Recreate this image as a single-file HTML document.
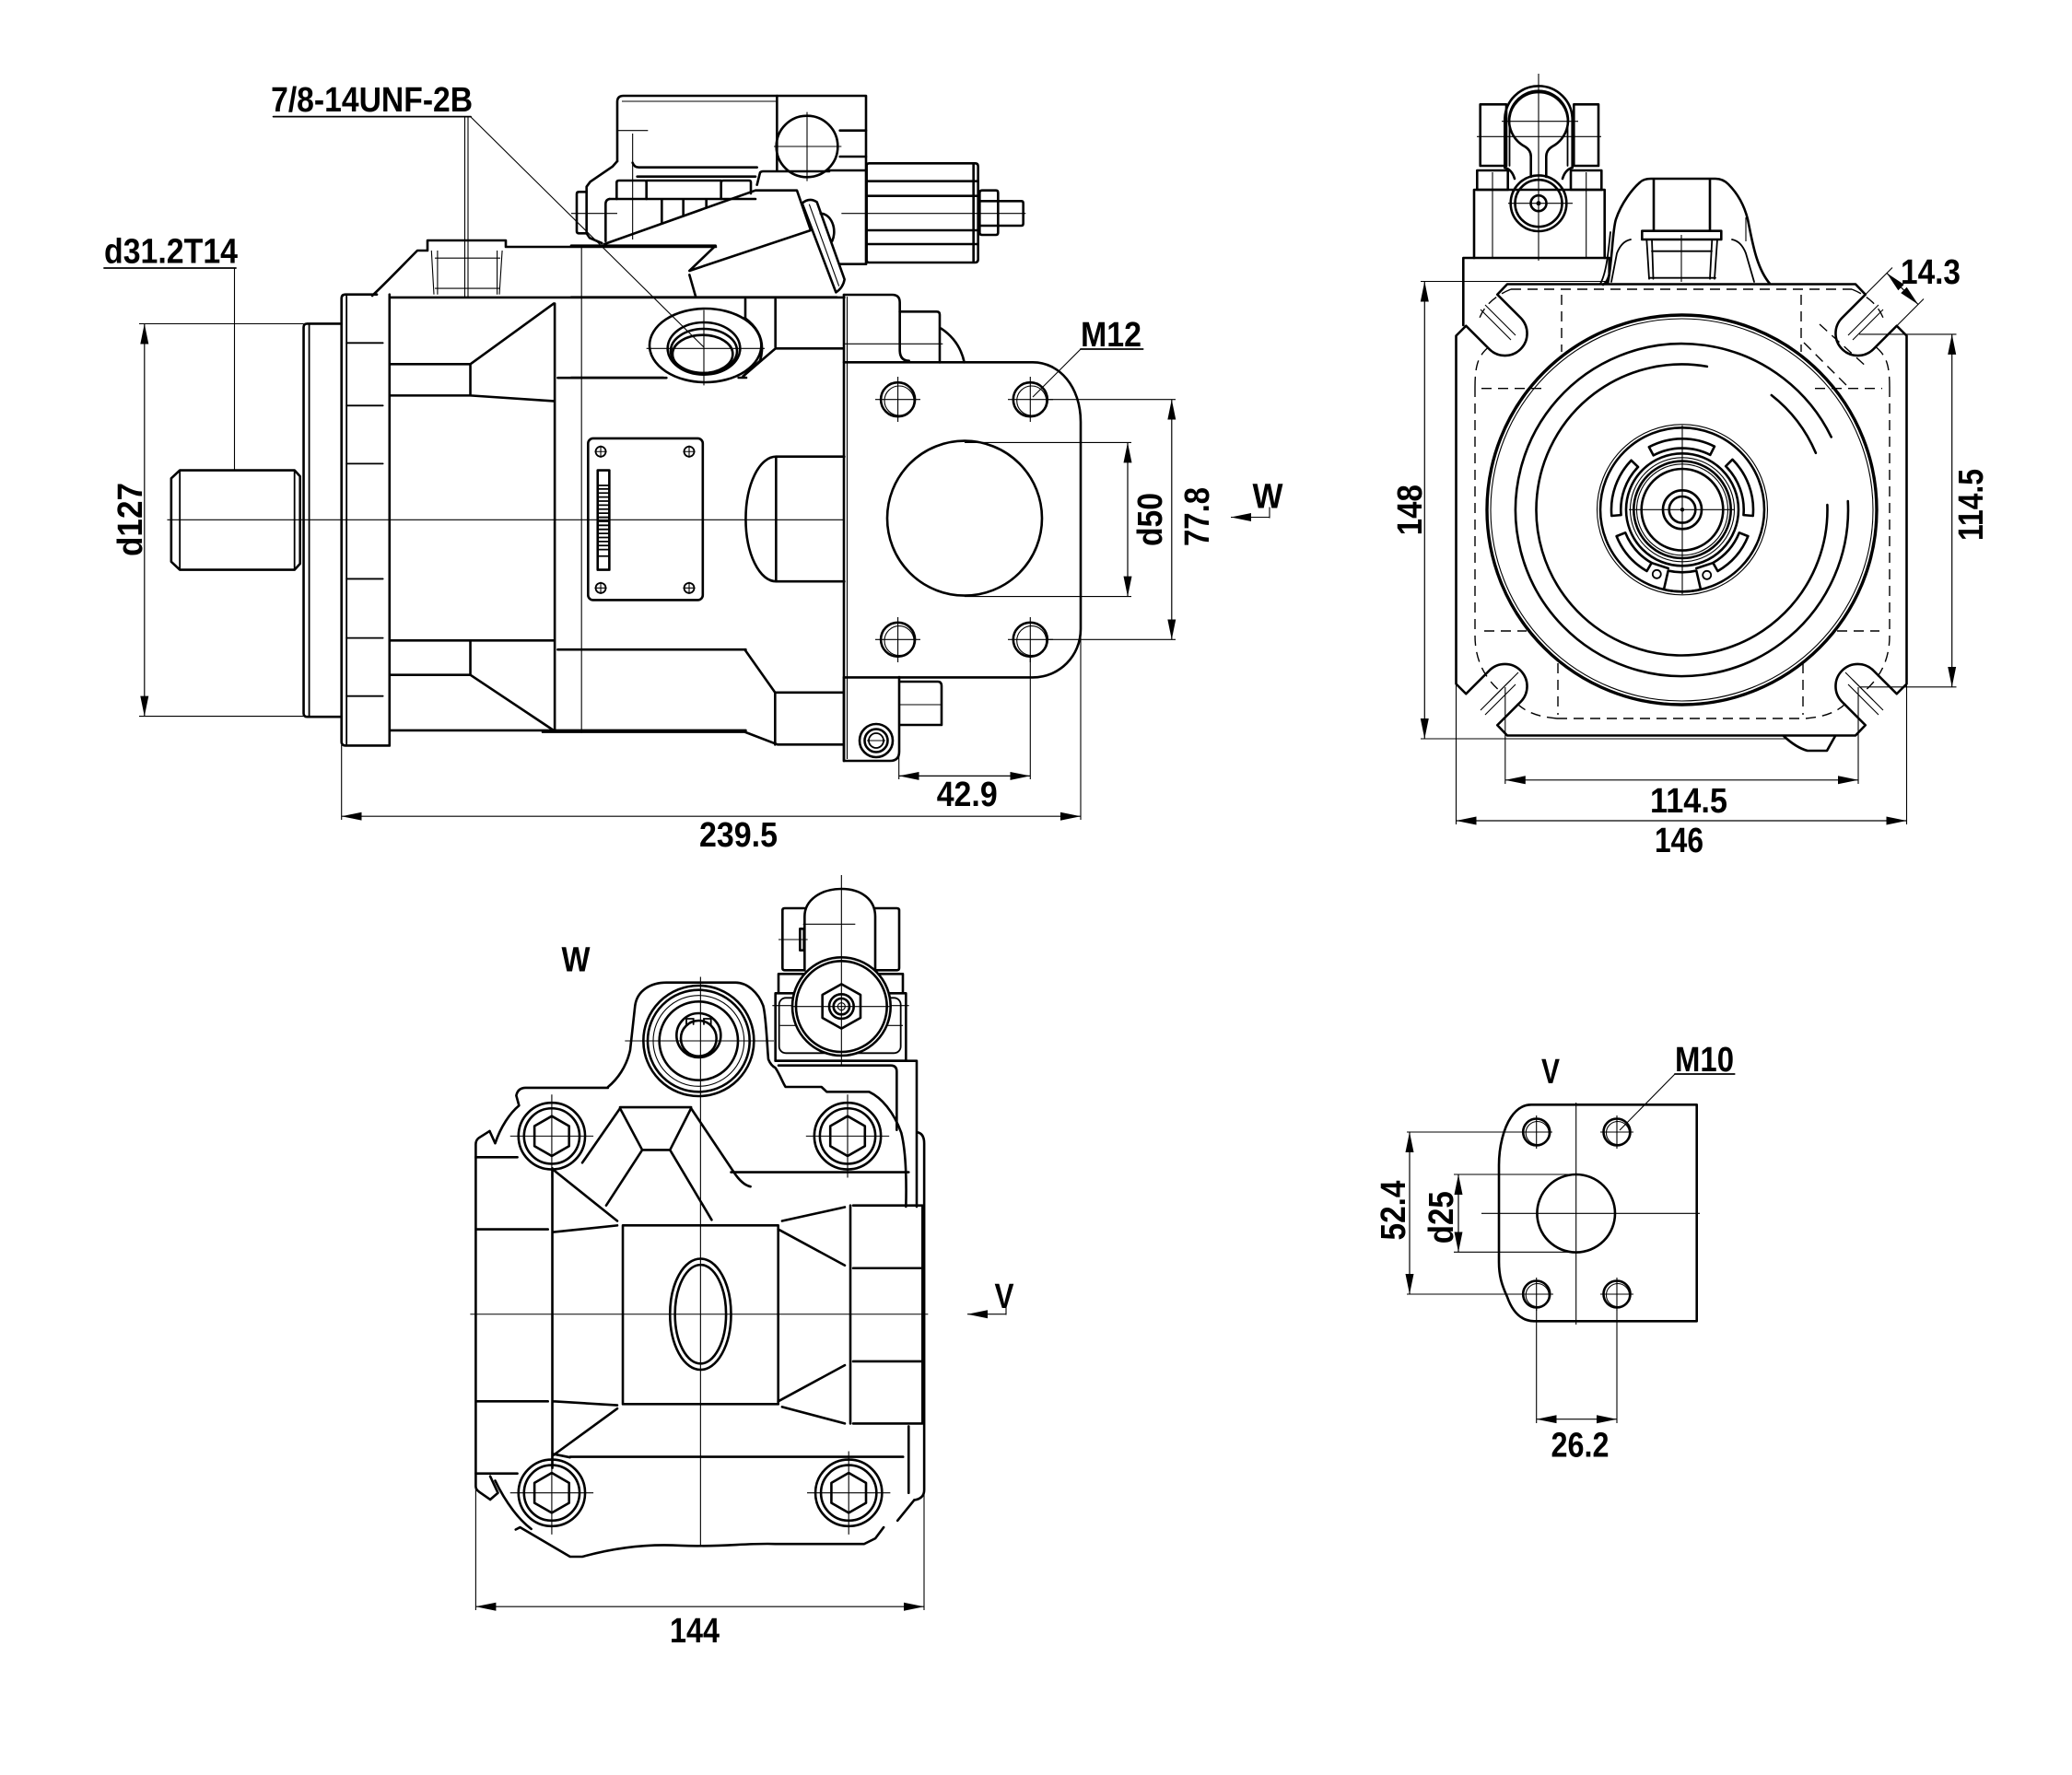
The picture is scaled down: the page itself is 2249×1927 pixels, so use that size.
<!DOCTYPE html>
<html><head><meta charset="utf-8">
<style>
html,body{margin:0;padding:0;background:#fff;}
svg{display:block}
.k{fill:none;stroke:#000;stroke-width:2.6;stroke-linejoin:round;stroke-linecap:round}
.m{fill:none;stroke:#000;stroke-width:1.8;stroke-linecap:round}
.t{fill:none;stroke:#000;stroke-width:1.1}
.d{fill:none;stroke:#000;stroke-width:1.4;stroke-dasharray:11 7}
.k,.m,.t,.d{vector-effect:non-scaling-stroke}
.dim{fill:none;stroke:#000;stroke-width:1.2;marker-start:url(#a);marker-end:url(#a)}
text{font-family:"Liberation Sans",Arial,sans-serif;font-weight:bold;fill:#000;font-size:38px}
</style></head><body>
<svg width="2249" height="1927" viewBox="0 0 2249 1927" xmlns="http://www.w3.org/2000/svg">
<defs>
<marker id="a" viewBox="-22 -5 22 10" refX="0" refY="0" markerWidth="22" markerHeight="10" markerUnits="userSpaceOnUse" orient="auto-start-reverse"><path d="M-22,-4.5 L0,0 L-22,4.5 z" fill="#000"/></marker>
</defs>
<rect width="2249" height="1927" fill="#fff"/>

<!-- ================= LEFT VIEW ================= -->
<g transform="translate(80,80) scale(0.54845)">
  <path class="k" d="M210,785 L437,785 L448,797 L448,970 L437,982 L210,982 L193,966 L193,801 Z"/>
  <path class="m" d="M210,785 V982 M437,785 V982"/>
  <path class="k" d="M530,495 H462 Q455,495 455,502 V1266 Q455,1273 462,1273 H530"/>
  <path class="m" d="M466,497 V1271"/>
  <path class="k" d="M600,437 H538 Q530,437 530,445 V1322 Q530,1330 538,1330 H625 V437"/>
  <path class="m" d="M540,440 V1327"/>
  <path class="m" d="M540,533 H612 M540,657 H612 M540,772 H612 M540,1000 H612 M540,1117 H612 M540,1232 H612"/>
  <path class="k" d="M625,443 H1525"/>
  <path class="k" d="M625,1300 H1330"/>
  <path class="k" d="M625,575 H785 L950,455 M625,637 H785 L950,648 M785,575 V637"/>
  <path class="k" d="M625,1122 H950 M625,1190 H785 L950,1300 M785,1122 V1190"/>
  <path class="k" d="M952,455 V1300"/>
  <path class="k" d="M958,602 H1173 M958,1140 H1330"/>
  <path class="t" d="M1005,340 V1305"/>
  <path class="t" d="M185,883 H1525"/>
  <rect class="k" x="1018" y="722" width="227" height="320" rx="10"/>
  <circle class="m" cx="1043" cy="748" r="10"/><circle class="m" cx="1218" cy="748" r="10"/>
  <circle class="m" cx="1043" cy="1018" r="10"/><circle class="m" cx="1218" cy="1018" r="10"/>
  <path class="t" d="M1031,748 H1055 M1043,736 V760 M1206,748 H1230 M1218,736 V760 M1031,1018 H1055 M1043,1006 V1030 M1206,1018 H1230 M1218,1006 V1030"/>
  <rect class="k" x="1037" y="785" width="23" height="197"/>
  <path class="m" d="M1037,815 H1060 M1037,955 H1060"/>
  <path class="m" d="M1040,822 H1058 M1040,830 H1058 M1040,838 H1058 M1040,846 H1058 M1040,854 H1058 M1040,862 H1058 M1040,870 H1058 M1040,878 H1058 M1040,886 H1058 M1040,894 H1058 M1040,902 H1058 M1040,910 H1058 M1040,918 H1058 M1040,926 H1058 M1040,934 H1058 M1040,942 H1058"/>
  <path class="k" d="M1525,758 H1390 V1005 H1525 M1390,758 A60,123.5 0 0 0 1390,1005"/>
</g>

<g transform="translate(600,80) scale(0.54845)">
  <path class="k" d="M-20,1303 H380 L445,1328 H575"/>
  <path class="k" d="M380,1140 L440,1225 H575 M440,1225 V1328"/>
</g>

<path class="k" d="M404,321 C418,308 440,285 453,272 H464 V261 H549 V268 H777"/>
<path class="t" d="M468.3,272 L471,319.7 M474.9,272 V319.7 M539.6,272 V319.7 M545.1,272 L542,319.7 M472,280.2 H543 M472,313.1 H543"/>

<g transform="translate(620,90) scale(0.33333)">
  <path class="k" d="M150,255 V62 Q150,42 170,42 H960 V590"/>
  <path class="k" d="M150,255 L135,272 L62,322 L50,338 V490 L60,505 L100,522"/>
  <path class="k" d="M50,355 H25 Q18,355 18,362 V483 Q18,490 25,490 H50"/>
  <path class="k" d="M200,260 Q205,275 220,275 H605"/>
  <path class="k" d="M215,305 H600"/>
  <path class="k" d="M670,42 V285"/>
  <path class="t" d="M165,60 H670"/>
  <circle class="k" cx="768" cy="207" r="100"/>
  <path class="t" d="M660,207 H880 M768,95 V320"/>
  <path class="k" d="M875,155 H960 M875,240 H960"/>
  <path class="t" d="M150,155 H250 M200,165 V510 M0,425 H150"/>
  <path class="k" d="M148,378 V325 Q148,318 155,318 H240 Q245,318 245,325 V378 M488,378 V325 Q488,318 495,318 H580 Q585,318 585,325 V360"/>
  <path class="k" d="M245,318 H488"/>
  <path class="k" d="M125,378 H600"/>
  <path class="k" d="M125,378 Q112,380 112,395 V515"/>
  <path class="k" d="M295,380 V458 M365,380 V433 M440,380 V406"/>
  <path class="k" d="M108,525 L600,350 H735 L780,480 L385,612 L470,530 H0"/>
  <path class="k" d="M605,332 L615,292 Q618,288 625,288 H840 V285 H960"/>
  <path class="k" d="M385,625 L405,695"/>
  <path class="k" d="M752,392 Q775,372 800,388 L890,640 Q885,668 862,682 Z"/>
  <path class="t" d="M775,395 L872,662"/>
  <path class="k" d="M812,425 A45,60 0 0 1 850,515"/>
  <path class="k" d="M875,590 H960"/>
  <path class="t" d="M880,425 H1480"/>
  <path class="k" d="M962,270 Q962,262 970,262 H1315 Q1325,262 1325,272 V575 Q1325,585 1315,585 H970 Q962,585 962,577 Z"/>
  <path class="k" d="M965,320 H1320 M965,368 H1320 M965,480 H1320 M965,525 H1320 M1310,265 V582"/>
  <path class="k" d="M1330,358 Q1330,350 1338,350 H1383 Q1390,350 1390,358 V487 Q1390,495 1383,495 H1338 Q1330,495 1330,487 Z M1333,385 H1390 M1333,465 H1390"/>
  <path class="k" d="M1390,385 H1466 Q1472,385 1472,392 V458 Q1472,465 1466,465 H1390"/>
  <path class="k" d="M0,698 H865"/>
  <ellipse class="k" cx="437" cy="855" rx="182" ry="120"/>
  <ellipse class="k" cx="432" cy="865" rx="118" ry="85"/>
  <ellipse class="k" cx="432" cy="873" rx="108" ry="72"/>
  <ellipse class="k" cx="428" cy="883" rx="98" ry="62"/>
  <path class="k" d="M565,765 Q640,820 615,905 L560,955"/>
  <path class="k" d="M0,960 H300 M545,960 H570 M560,955 L665,865 H885 M567,705 V770 M665,705 V860"/>
  <path class="t" d="M245,865 H630 M432,740 V985"/>
  <path class="k" d="M888,690 H1045 Q1070,690 1070,715 V870 Q1070,905 1100,905"/>
  <path class="k" d="M1070,745 H1190 Q1200,745 1200,755 V910"/>
  <path class="k" d="M1205,800 Q1265,840 1280,910"/>
  <path class="t" d="M888,850 H1210"/>
</g>

<path class="k" d="M916,320 V826"/>
<path class="t" d="M919.5,322 V824"/>
<path class="k" d="M916,393.3 H1121 C1150,393.3 1173,420 1173,458 V683 C1173,712 1150,735.4 1121,735.4 H916"/>
<circle class="k" cx="974.6" cy="433.7" r="18.5"/><circle class="t" cx="976" cy="435" r="16"/>
<circle class="k" cx="1118.3" cy="433.7" r="18.5"/><circle class="t" cx="1119.7" cy="435" r="16"/>
<circle class="k" cx="974.6" cy="694.3" r="18.5"/><circle class="t" cx="976" cy="695.6" r="16"/>
<circle class="k" cx="1118.3" cy="694.3" r="18.5"/><circle class="t" cx="1119.7" cy="695.6" r="16"/>
<path class="t" d="M950,433.7 H999 M974.6,409 V458 M1094,433.7 H1143 M1118.3,409 V458 M950,694.3 H999 M974.6,670 V719 M1094,694.3 H1143 M1118.3,670 V719"/>
<circle class="k" cx="1047" cy="562.6" r="84"/>
<path class="k" d="M916,735 V826 H966 Q976,826 976,816 V735 M976,740 H1018 Q1022,740 1022,745 V787 H976"/>
<path class="t" d="M976,765 H1022"/>
<circle class="k" cx="951" cy="804" r="18"/><circle class="k" cx="951" cy="804" r="12.5"/><circle class="m" cx="951" cy="804" r="8"/>
<path class="t" d="M941,804 H961"/>

<path class="dim" d="M156.8,351.5 V777.6"/>
<path class="t" d="M151,351.5 H329.5 M151,777.6 H329.5"/>
<path class="m" d="M113,291 H256"/>
<path class="t" d="M254.5,291 V510"/>
<path class="m" d="M296.6,126.6 H511"/>
<path class="t" d="M504.5,127 V322 M508,127 V322 M511,127 L764,377"/>
<path class="dim" d="M370.7,886.2 H1173"/>
<path class="t" d="M370.7,809 V890 M1173,683 V890"/>
<path class="dim" d="M975.7,842.4 H1118.3"/>
<path class="t" d="M975.7,793 V846 M1118.3,713 V846"/>
<path class="dim" d="M1224,480.4 V647.6"/>
<path class="t" d="M1047,480.4 H1228 M1047,647.6 H1228"/>
<path class="dim" d="M1271.8,433.7 V694.3"/>
<path class="t" d="M1137,433.7 H1276 M1137,694.3 H1276"/>
<path class="m" d="M1173,379 H1240.6"/>
<path class="t" d="M1173,379 L1121,431"/>
<path class="t" d="M1336,561.5 H1378 M1378,550.5 V562.5" marker-start="url(#a)"/>

<text x="403.6" y="121" text-anchor="middle" textLength="219" lengthAdjust="spacingAndGlyphs">7/8-14UNF-2B</text>
<text x="185.5" y="285.7" text-anchor="middle" textLength="145" lengthAdjust="spacingAndGlyphs">d31.2T14</text>
<text transform="translate(154,564) rotate(-90)" text-anchor="middle" textLength="80" lengthAdjust="spacingAndGlyphs">d127</text>
<text x="801.5" y="919" text-anchor="middle" textLength="85" lengthAdjust="spacingAndGlyphs">239.5</text>
<text x="1049.7" y="875" text-anchor="middle" textLength="66" lengthAdjust="spacingAndGlyphs">42.9</text>
<text x="1206" y="376" text-anchor="middle" textLength="66" lengthAdjust="spacingAndGlyphs">M12</text>
<text transform="translate(1261,564) rotate(-90)" text-anchor="middle" textLength="58" lengthAdjust="spacingAndGlyphs">d50</text>
<text transform="translate(1312,561) rotate(-90)" text-anchor="middle" textLength="64" lengthAdjust="spacingAndGlyphs">77.8</text>
<text x="1376" y="551.7" text-anchor="middle" textLength="33" lengthAdjust="spacingAndGlyphs">W</text>

<!-- ================= RIGHT VIEW ================= -->
<path class="k" d="M1588.3,353 V280 H1746.7 V298 Q1745,306 1740,309"/>
<path class="k" d="M1600,280 V206 H1741.7 V280"/>
<path class="t" d="M1620,187 V280 M1721.7,187 V280 M1670,80 V283"/>
<rect class="k" x="1603.3" y="185" width="33.4" height="21"/>
<rect class="k" x="1705" y="185" width="33.3" height="21"/>
<rect class="k" x="1606.7" y="113.3" width="28.3" height="66.7"/>
<rect class="k" x="1708.3" y="113.3" width="26.7" height="66.7"/>
<path class="k" d="M1633.3,182 V130 A36.7,36.7 0 0 1 1706.7,130 V182"/>
<path class="k" d="M1633.3,182 Q1641,184 1644,194 M1706.7,182 Q1699,184 1696,194"/>
<path class="m" d="M1638.5,180 V132 A31.5,31.5 0 0 1 1701.5,132 V180"/>
<path class="k" d="M1661.7,192 V170 Q1661.7,163 1655,159 A32,32 0 1 1 1685,159 Q1678.3,163 1678.3,170 V192"/>
<circle class="k" cx="1670" cy="220.7" r="30.3"/>
<circle class="k" cx="1670" cy="220.7" r="25.5"/>
<circle class="k" cx="1670" cy="220.7" r="8.5"/>
<circle cx="1670" cy="220.7" r="2.5" fill="#000"/>
<path class="t" d="M1630,131.7 H1713 M1603,148.3 H1738 M1637,220.7 H1707"/>
<path class="k" d="M1745,308 C1750,285 1750,250 1754,238 C1760,220 1772,205 1780,198 Q1784,194 1792,194 H1862 Q1870,194 1876,200 C1886,210 1893,222 1897,238 C1902,262 1906,290 1921,308"/>
<path class="m" d="M1737,308 C1744,296 1746,270 1748,252"/>
<path class="k" d="M1795,195 V250.7 M1856,195 V250.7"/>
<rect class="k" x="1782.3" y="250.7" width="86" height="9.3"/>
<path class="m" d="M1770,260 Q1760,262 1755,275 L1749,306 M1880,260 Q1890,262 1895,275 L1904,306"/>
<path class="m" d="M1787.3,260 L1790,302.7 M1793,260 L1794.5,302.7 M1858.3,260 L1856,302.7 M1864,260 L1861,302.7 M1793,272.7 H1858 M1790,301.7 H1862"/>
<path class="t" d="M1895,236 V262 M1825,255 V306"/>
<path class="k" d="M1636,308.5 H2014 L2024.75,319.75 L1999.5,345 A24,24 0 0 0 2033.5,379 L2058.75,353.75 L2069.5,364.5 V742.5 L2058.75,753.25 L2033.5,728 A24,24 0 0 0 1999.5,762 L2024.75,787.25 L2014,798.5 H1636 L1625.25,787.25 L1650.5,762 A24,24 0 0 0 1616.5,728 L1591.25,753.25 L1580.5,742.5 V364.5 L1591.25,353.75 L1616.5,379 A24,24 0 0 0 1650.5,345 L1625.25,319.75 Z"/>
<path class="k" d="M1936,799 Q1950,812 1962,815 H1983 L1992,799"/>
<path class="t" d="M1612,331 L1645,364 M1607,336 L1640,369 M2039,331 L2006,364 M2044,336 L2011,369 M1612,776 L1645,743 M1607,771 L1640,738 M2039,776 L2006,743 M2044,771 L2011,738"/>
<path class="t" d="M1618,760 L1648,730 M2033,760 L2003,730"/>
<path class="d" d="M1640,314 H2010 M1601,420 V690 M2051,420 V690 M1690,780 H1960"/>
<path class="d" d="M1601,420 C1601,395 1605,385 1618,375 M1640,314 C1625,320 1612,330 1606,345"/>
<path class="d" d="M2051,420 C2051,395 2047,385 2034,375 M2010,314 C2025,320 2038,330 2044,345"/>
<path class="d" d="M1601,690 C1601,715 1610,735 1630,752 M1690,780 C1665,778 1652,770 1645,762"/>
<path class="d" d="M2051,690 C2051,715 2042,735 2022,752 M1960,780 C1985,778 1998,770 2005,762"/>
<path class="d" d="M1695,320 V382 M1955,320 V382 M1691,720 V776 M1957,720 V776 M1608,421.7 H1680 M1970,421.7 H2043 M1611,685 H1657 M1994,685 H2040"/>
<path class="d" d="M1958,372 L2006,420 M1975,352 L2028,400"/>
<circle class="k" cx="1825.5" cy="553.5" r="211.5" style="stroke-width:3.4"/>
<circle class="t" cx="1825.5" cy="553.5" r="207.5"/>
<path class="k" d="M2005.75,544.06 A180.5,180.5 0 1 1 1987.7,474.4"/>
<path class="k" d="M1983.4,548 A158,158 0 1 1 1852.9,397.9"/>
<path class="k" d="M1922.8,429 A158,158 0 0 1 1970.9,491.8"/>
<circle class="k" cx="1826" cy="553.3" r="89"/>
<circle class="t" cx="1826" cy="553.3" r="92.5"/>
<path class="k" d="M1789.85,485.32 A77,77 0 0 1 1860.96,484.69 L1856.28,493.87 A66.7,66.7 0 0 0 1794.68,494.41 Z"/>
<path class="k" d="M1880.45,498.85 A77,77 0 0 1 1902.71,560.01 L1892.45,559.12 A66.7,66.7 0 0 0 1873.16,506.14 Z"/>
<path class="k" d="M1749.29,560.01 A77,77 0 0 1 1770.61,499.81 L1778.02,506.96 A66.7,66.7 0 0 0 1759.55,559.12 Z"/>
<path class="k" d="M1897.39,582.14 A77,77 0 0 1 1864.5,619.98 L1859.35,611.06 A66.7,66.7 0 0 0 1887.84,578.29 Z"/>
<path class="k" d="M1787.5,619.98 A77,77 0 0 1 1754.61,582.14 L1764.16,578.29 A66.7,66.7 0 0 0 1792.65,611.06 Z"/>
<path class="k" d="M1846.03,640.02 A89,89 0 0 1 1805.97,640.02 L1810.7,619.56 A68,68 0 0 0 1841.3,619.56 Z"/>
<path class="k" d="M1792.65,611.06 L1810.7,617 M1859.35,611.06 L1841.3,617"/>
<circle class="m" cx="1798.3" cy="623.3" r="4.5"/><circle class="m" cx="1852.7" cy="624.3" r="4.5"/>
<circle class="k" cx="1826" cy="553.3" r="61"/>
<circle class="t" cx="1826" cy="553.3" r="56.5"/>
<circle class="k" cx="1826" cy="553.3" r="52.7"/>
<circle class="t" cx="1826" cy="553.3" r="49.5"/>
<circle class="k" cx="1826" cy="553.3" r="44.3"/>
<circle class="k" cx="1826" cy="553.3" r="21"/>
<circle class="k" cx="1826" cy="553.3" r="14.3"/>
<circle cx="1826" cy="553.3" r="2.2" fill="#000"/>
<path class="t" d="M1768,553.3 H1883 M1826,461.7 V645"/>
<path class="dim" d="M1546.3,305.5 V802"/>
<path class="t" d="M1542,305.5 H1745 M1542,802 H1938"/>
<path class="dim" d="M2118.7,362.9 V745.8"/>
<path class="t" d="M2018,362.9 H2123.5 M2018,745.8 H2123.5"/>
<path class="dim" d="M1633.8,846.8 H2017"/>
<path class="t" d="M1633.8,746 V851 M2017,746 V851"/>
<path class="dim" d="M1580.5,891 H2069.5"/>
<path class="t" d="M1580.5,742 V895 M2069.5,742 V895"/>
<path class="dim" d="M2048,296.5 L2082,330.5"/>
<path class="t" d="M2024.75,319.75 L2054,290.5 M2058.75,353.75 L2088,324.5"/>
<text transform="translate(1543,553.7) rotate(-90)" text-anchor="middle" textLength="55" lengthAdjust="spacingAndGlyphs">148</text>
<text x="2095.5" y="308" text-anchor="middle" textLength="65" lengthAdjust="spacingAndGlyphs">14.3</text>
<text transform="translate(2152,548) rotate(-90)" text-anchor="middle" textLength="78" lengthAdjust="spacingAndGlyphs">114.5</text>
<text x="1833" y="882" text-anchor="middle" textLength="84" lengthAdjust="spacingAndGlyphs">114.5</text>
<text x="1822.5" y="925" text-anchor="middle" textLength="53" lengthAdjust="spacingAndGlyphs">146</text>

<!-- ================= BOTTOM VIEW ================= -->
<g transform="translate(420,940) scale(0.60241)">
  <path class="k" d="M185,478 L166,490 Q160,494 160,502 V1118 Q160,1124 166,1128 L186,1142"/>
  <path class="k" d="M185,478 L195,500 C205,470 222,445 238,432 L233,414 Q236,400 250,400 H398"/>
  <path class="k" d="M955,480 Q968,482 968,500 V1125 Q968,1140 950,1143 M940,1010 V1130"/>
  <path class="k" d="M186,1100 L200,1130 L186,1142 M232,1196 L240,1192 L330,1245 H352 C420,1226 480,1222 530,1225 C600,1228 650,1220 700,1222 H860 L880,1212 L895,1192 M920,1180 L950,1143"/>
  <path class="k" d="M195,1108 C215,1150 240,1180 260,1195"/>
  <path class="k" d="M420,435 H548"/>
  <path class="k" d="M420,437 L460,512 M548,437 L510,512 M395,612 L460,512 H510 L585,638"/>
  <path class="k" d="M548,437 L625,552 Q640,575 655,578 M420,437 L352,535"/>
  <path class="k" d="M620,552 H940"/>
  <path class="k" d="M425,648 H705 V970 H425 Z"/>
  <path class="k" d="M160,525 H235 M160,1095 H235 M162,655 H290 M162,965 H290 M298,545 V1085 M300,660 L415,648 M300,965 L415,972 M300,548 L415,640 M300,1062 L415,978"/>
  <path class="k" d="M705,655 L825,720 M705,965 L825,900 M712,640 L825,615 M712,975 L825,1005 M835,612 V1005 M840,612 H965 M840,725 H965 M840,893 H965 M840,1005 H965 M965,612 V1005"/>
  <path class="k" d="M330,1065 H930 M300,1060 L330,1066"/>
  <ellipse class="k" cx="565" cy="808" rx="55" ry="100"/>
  <ellipse class="k" cx="565" cy="808" rx="46" ry="89"/>
  <circle class="k" cx="297" cy="487" r="60"/><circle class="k" cx="297" cy="487" r="50"/>
  <polygon class="k" points="297,451 328.2,469 328.2,505 297,523 265.8,505 265.8,469"/>
  <circle class="k" cx="830" cy="487" r="60"/><circle class="k" cx="830" cy="487" r="50"/>
  <polygon class="k" points="830,451 861.2,469 861.2,505 830,523 798.8,505 798.8,469"/>
  <circle class="k" cx="297" cy="1130" r="60"/><circle class="k" cx="297" cy="1130" r="50"/>
  <polygon class="k" points="297,1094 328.2,1112 328.2,1148 297,1166 265.8,1148 265.8,1112"/>
  <circle class="k" cx="832" cy="1130" r="60"/><circle class="k" cx="832" cy="1130" r="50"/>
  <polygon class="k" points="832,1094 863.2,1112 863.2,1148 832,1166 800.8,1148 800.8,1112"/>
  <path class="t" d="M222,487 H372 M297,412 V562 M755,487 H905 M830,412 V562 M222,1130 H372 M297,1055 V1205 M757,1130 H907 M832,1055 V1205"/>
  <path class="t" d="M150,808 H975 M565,200 V1225"/>
</g>

<g transform="translate(660,950) scale(0.33333)">
  <path class="k" d="M0,690 C30,665 60,625 72,570 L88,425 C95,375 140,350 190,350 H415 C455,350 490,385 505,425 C515,460 518,560 522,600 Q530,620 545,628 C560,650 568,675 578,690 H695 L712,706 H850 C890,725 930,770 955,840 C970,900 972,1000 970,1080"/>
  <circle class="k" cx="295" cy="540" r="180"/>
  <circle class="k" cx="295" cy="540" r="166"/>
  <circle class="t" cx="295" cy="540" r="148"/>
  <circle class="k" cx="295" cy="540" r="128"/>
  <circle class="k" cx="295" cy="522" r="72"/>
  <circle class="k" cx="295" cy="532" r="58"/>
  <path class="m" d="M255,490 V468 H278 V486 M312,486 V468 H335 V490"/>
  <path class="t" d="M55,540 H540"/>
  <path class="k" d="M640,310 V135 C640,80 695,45 760,45 C825,45 870,80 870,135 V310"/>
  <path class="k" d="M640,108 H575 Q568,108 568,115 V303 Q568,310 575,310 H640 M870,108 H940 Q948,108 948,115 V303 Q948,310 940,310 H870"/>
  <rect class="k" x="625" y="175" width="13" height="70"/>
  <path class="t" d="M635,160 H805 M555,210 H650 M760,0 V620 M535,425 H980 M560,490 H960"/>
  <path class="k" d="M545,385 H970 V605 H545 Z M555,385 V322 H960 V385"/>
  <rect class="m" x="557" y="400" width="396" height="180" rx="22"/>
  <circle class="k" cx="760" cy="428" r="160" style="fill:#fff"/>
  <circle class="k" cx="760" cy="428" r="148"/>
  <polygon class="k" points="760,355 822,390 822,465 760,500 698,465 698,390"/>
  <circle class="k" cx="760" cy="428" r="40"/>
  <circle class="k" cx="760" cy="428" r="26"/>
  <circle class="t" cx="760" cy="428" r="12"/>
  <path class="t" d="M600,428 H920 M760,268 V590"/>
  <path class="k" d="M545,605 H1005 V1080 M555,620 H920 Q940,620 940,640 V830"/>
</g>

<path class="dim" d="M516.4,1744.2 H1003"/>
<path class="t" d="M516.4,1602 V1748 M1003,1550 V1748"/>
<path class="t" d="M1050,1426.7 H1092 M1092,1415.5 V1427.5" marker-start="url(#a)"/>
<text x="625" y="1054.5" text-anchor="middle" textLength="31" lengthAdjust="spacingAndGlyphs">W</text>
<text x="1090" y="1420" text-anchor="middle" textLength="21" lengthAdjust="spacingAndGlyphs">V</text>
<text x="754" y="1783" text-anchor="middle" textLength="54" lengthAdjust="spacingAndGlyphs">144</text>

<!-- ================= BOTTOM-RIGHT VIEW ================= -->
<path class="k" d="M1662,1199.3 H1841.7 V1434.3 H1665 C1652,1434 1642,1425 1636,1408 C1630,1395 1627,1385 1627,1370 V1265 C1627,1245 1632,1225 1640,1213 C1646,1204 1653,1199.3 1662,1199.3 Z"/>
<circle class="k" cx="1667.7" cy="1229" r="14.5"/><circle class="t" cx="1668.7" cy="1230" r="12.5"/>
<circle class="k" cx="1755" cy="1229" r="14.5"/><circle class="t" cx="1756" cy="1230" r="12.5"/>
<circle class="k" cx="1667.7" cy="1405" r="14.5"/><circle class="t" cx="1668.7" cy="1406" r="12.5"/>
<circle class="k" cx="1755" cy="1405" r="14.5"/><circle class="t" cx="1756" cy="1406" r="12.5"/>
<path class="t" d="M1650,1229 H1685 M1667.7,1211 V1247 M1737,1229 H1773 M1755,1211 V1247 M1650,1405 H1685 M1667.7,1387 V1423 M1737,1405 H1773 M1755,1387 V1423"/>
<circle class="k" cx="1710.7" cy="1317.3" r="42.3"/>
<path class="t" d="M1608,1317.3 H1845 M1710.7,1197 V1438"/>
<path class="dim" d="M1530,1229 V1405"/>
<path class="t" d="M1527,1229 H1683 M1527,1405 H1686"/>
<path class="dim" d="M1583,1275 V1359.3"/>
<path class="t" d="M1578,1275 H1710 M1578,1359.3 H1710"/>
<path class="dim" d="M1667.7,1540.7 H1755"/>
<path class="t" d="M1667.7,1420 V1545 M1755,1420 V1545"/>
<path class="m" d="M1818,1166 H1882.7"/>
<path class="t" d="M1818,1166 L1758,1227"/>
<text x="1683" y="1176" text-anchor="middle" textLength="20" lengthAdjust="spacingAndGlyphs">V</text>
<text x="1850" y="1163" text-anchor="middle" textLength="64" lengthAdjust="spacingAndGlyphs">M10</text>
<text transform="translate(1525,1314) rotate(-90)" text-anchor="middle" textLength="65" lengthAdjust="spacingAndGlyphs">52.4</text>
<text transform="translate(1577,1321.7) rotate(-90)" text-anchor="middle" textLength="57" lengthAdjust="spacingAndGlyphs">d25</text>
<text x="1715" y="1581.7" text-anchor="middle" textLength="63" lengthAdjust="spacingAndGlyphs">26.2</text>
</svg>
</body></html>
